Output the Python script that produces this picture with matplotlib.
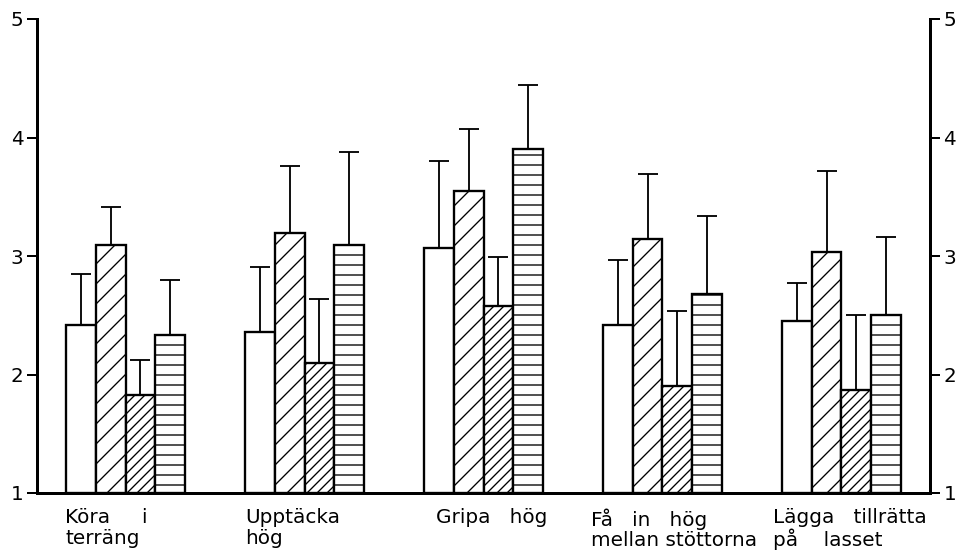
import matplotlib
matplotlib.use('Agg')
import matplotlib.pyplot as plt
import numpy as np

# category labels (two lines each) and the four series
labels = ["Köra     i\nterräng", "Upptäcka\nhög", "Gripa   hög",
          "Få   in   hög\nmellan stöttorna", "Lägga   tillrätta\npå    lasset"]
label_shift = [-0.03, 0.0, 0.4, -0.4, -0.3]  # text start relative to group edge (bar widths)

series_mean = [
    [2.42, 2.36, 3.07, 2.42, 2.45],  # open bars
    [3.09, 3.19, 3.55, 3.14, 3.03],  # coarse diagonal
    [1.83, 2.10, 2.58, 1.90, 1.87],  # dense diagonal
    [2.33, 3.09, 3.90, 2.68, 2.50],  # horizontal lines
]
series_top = [
    [2.85, 2.91, 3.80, 2.97, 2.77],
    [3.41, 3.76, 4.07, 3.69, 3.72],
    [2.12, 2.64, 2.99, 2.54, 2.50],
    [2.80, 3.88, 4.44, 3.34, 3.16],
]
hatches = ['', '//', '////', '--']

plt.rcParams['font.family'] = ['DejaVu Sans']
plt.rcParams['hatch.linewidth'] = 0.8

fig = plt.figure(figsize=(962 / 120, 551 / 120), dpi=120)
ax = fig.add_axes([37 / 962, 58 / 551, 893 / 962, 474 / 551])

n_groups = len(labels)
group_step = 6
for j in range(4):
    x = np.arange(n_groups) * group_step + j + 0.5
    mean = np.array(series_mean[j])
    err = np.array(series_top[j]) - mean
    ax.bar(x, mean - 1, bottom=1, width=1.0, color='white', edgecolor='black',
           linewidth=1.4, hatch=hatches[j], zorder=2)
    ax.errorbar(x, mean, yerr=[np.zeros_like(err), err], fmt='none',
                ecolor='black', elinewidth=1.1, capsize=6, capthick=1.1, zorder=1)

for i, lab in enumerate(labels):
    ax.text(i * group_step + label_shift[i], -0.032, lab, transform=ax.get_xaxis_transform(),
            ha='left', va='top', fontsize=12, linespacing=1.1)

ax.set_xlim(-0.97, (n_groups - 1) * group_step + 4 + 0.97)
ax.set_ylim(1, 5)
ax.set_yticks([1, 2, 3, 4, 5])
ax.set_xticks([])
ax.spines['top'].set_visible(False)
for s in ['left', 'right', 'bottom']:
    ax.spines[s].set_linewidth(1.8)
ax.tick_params(axis='y', which='both', direction='out', length=6, width=1.2,
               left=True, right=True, labelleft=True, labelright=True,
               labelsize=12, pad=2)

plt.savefig('out.png', dpi=120)
plt.close()
